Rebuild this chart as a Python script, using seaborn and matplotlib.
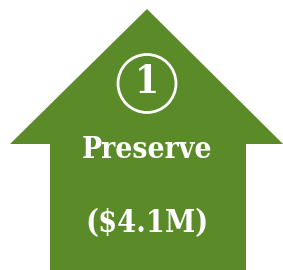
import matplotlib
matplotlib.use("Agg")
import matplotlib.pyplot as plt
import seaborn as sns
from matplotlib.patches import Circle

# data
step_numbers = [1]
step_labels = ["Preserve"]
step_amounts = [4.1]  # $M

sns.set_theme(style="white")
plt.rcParams['font.family'] = ['DejaVu Serif']

green = "#5B8A29"

fig = plt.figure(figsize=(2.83, 2.70), dpi=100)
ax = fig.add_axes([0, 0, 1, 1])
ax.set_xlim(0, 283)
ax.set_ylim(270, 0)
ax.axis("off")

# house / arrow shape
xs = [147, 283, 246, 246, 50, 50, 10]
ys = [9, 144, 144, 270, 270, 144, 144]
ax.fill(xs, ys, color=green, lw=0)

# circled number
ax.add_patch(Circle((147, 83.5), 29, fill=False, ec="white", lw=2))
ax.text(147, 82, str(step_numbers[0]), color="white", fontsize=28, fontweight="bold",
        ha="center", va="center", fontstretch="condensed")

ax.text(147, 149, step_labels[0], color="white", fontsize=21.5, fontweight="bold",
        ha="center", va="center", fontstretch="condensed")
ax.text(147, 224, f"(${step_amounts[0]}M)", color="white", fontsize=22, fontweight="bold",
        ha="center", va="center", fontstretch="condensed")

fig.savefig("out.png", dpi=100)
